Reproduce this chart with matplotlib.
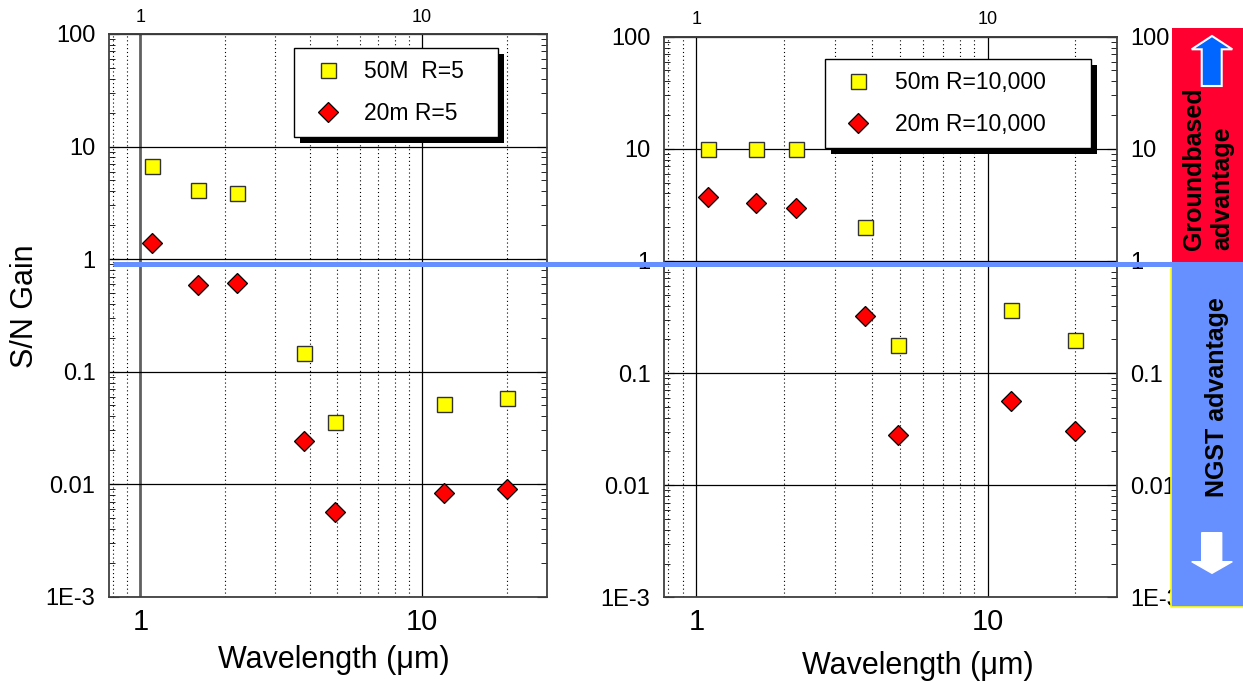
import numpy as np
import matplotlib
matplotlib.use('Agg')
import matplotlib.pyplot as plt
from matplotlib.ticker import FixedLocator, FixedFormatter, NullFormatter, LogLocator, NullLocator
from matplotlib.patches import Rectangle, Polygon
from matplotlib.lines import Line2D
import matplotlib.transforms as mtransforms

plt.rcParams['font.family'] = ['Liberation Sans', 'DejaVu Sans']

W, H = 1243, 681

# ---------------- data ----------------
wavelength = [1.1, 1.6, 2.2, 3.8, 4.9, 12, 20]
left_50m = [6.7, 4.1, 3.9, 0.147, 0.036, 0.052, 0.058]
left_20m = [1.38, 0.59, 0.61, 0.024, 0.0056, 0.0083, 0.0091]
right_50m = [10, 10, 10, 2.0, 0.179, 0.366, 0.198]
right_20m = [3.74, 3.3, 2.98, 0.322, 0.0278, 0.0567, 0.0306]

left_labels = ['50M  R=5', '20m R=5']
right_labels = ['50m R=10,000', '20m R=10,000']

ytick_vals = [1e-3, 1e-2, 1e-1, 1, 10, 100]
ytick_text = ['1E-3', '0.01', '0.1', '1', '10', '100']
xtick_vals = [1, 10]
xtick_text = ['1', '10']
xlim = (0.776, 27.7)
ylim = (1e-3, 100)

fig = plt.figure(figsize=(W / 100, H / 100), dpi=100)
pix = mtransforms.Affine2D().scale(1, -1).translate(0, H)


def fig_rect(x0, y0, x1, y1):
    return [x0 / W, 1 - y1 / H, (x1 - x0) / W, (y1 - y0) / H]


axL = fig.add_axes(fig_rect(109.3, 34.0, 546.7, 596.7))
axR = fig.add_axes(fig_rect(664.3, 36.7, 1116.7, 597.3))


def style(ax, labelright=False):
    ax.set_xscale('log')
    ax.set_yscale('log')
    ax.set_xlim(*xlim)
    ax.set_ylim(*ylim)
    ax.xaxis.set_major_locator(FixedLocator(xtick_vals))
    ax.xaxis.set_major_formatter(FixedFormatter(xtick_text))
    ax.xaxis.set_minor_locator(LogLocator(base=10, subs=np.arange(2, 10), numticks=50))
    ax.xaxis.set_minor_formatter(NullFormatter())
    ax.yaxis.set_major_locator(FixedLocator(ytick_vals))
    ax.yaxis.set_major_formatter(FixedFormatter(ytick_text))
    ax.yaxis.set_minor_locator(LogLocator(base=10, subs=np.arange(2, 10), numticks=50))
    ax.yaxis.set_minor_formatter(NullFormatter())
    ax.grid(True, which='major', axis='both', color='black', lw=0.9, ls='-')
    ax.grid(True, which='minor', axis='x', color='black', lw=0.8, ls=(0, (1, 2.5)))
    ax.tick_params(axis='x', which='both', length=0, labelsize=21, pad=8)
    ax.tick_params(axis='y', which='major', direction='in', length=7, left=True,
                   right=True, labelsize=17, pad=10, labelright=labelright)
    ax.tick_params(axis='y', which='minor', direction='in', length=4, left=True, right=True)
    for s in ax.spines.values():
        s.set_color('#404040')
        s.set_linewidth(1.3)
    sec = ax.secondary_xaxis('top')
    sec.set_xticks(xtick_vals, xtick_text)
    sec.xaxis.set_minor_locator(NullLocator())
    sec.tick_params(which='both', length=0, labelsize=13, pad=6)
    sec.spines['top'].set_color('#404040')
    sec.spines['top'].set_linewidth(1.3)
    return sec


def plot_panel(ax, y50, y20, labels):
    ax.plot(wavelength, y50, ls='none', marker='s', ms=10.8, mfc='#FFFF00',
            mec='#333333', mew=1.0, label=labels[0], zorder=3)
    ax.plot(wavelength, y20, ls='none', marker='D', ms=10, mfc='#FF0000',
            mec='black', mew=0.9, label=labels[1], zorder=3)


def add_legend(ax, x0, y0, x1):
    leg = ax.legend(loc='upper left',
                    bbox_to_anchor=(x0 / W, 1 - y0 / H - 0.1, (x1 - x0) / W, 0.1),
                    bbox_transform=fig.transFigure, mode='expand', borderaxespad=0,
                    fontsize=16.5, frameon=True, fancybox=False, edgecolor='black',
                    framealpha=1, borderpad=0.5, labelspacing=0.85, handlelength=1.9,
                    handletextpad=0.65, numpoints=1)
    leg.get_frame().set_linewidth(1.0)
    return leg


style(axL)
style(axR, labelright=True)
plot_panel(axL, left_50m, left_20m, left_labels)
plot_panel(axR, right_50m, right_20m, right_labels)
legL = add_legend(axL, 294.3, 48.3, 498.3)
legR = add_legend(axR, 825.0, 59.3, 1090.7)

# x = 1 grid line in left panel drawn grey and heavier
axL.xaxis.get_major_ticks()[0].gridline.set(color='#606060', lw=2.0)

# axis titles
fig.text(25, 306.5, 'S/N Gain', transform=pix, rotation=90, ha='center', va='center', fontsize=22)
fig.text(334.2, 668, 'Wavelength (\u03bcm)', transform=pix, ha='center', va='baseline', fontsize=22)
fig.text(917.5, 674, 'Wavelength (\u03bcm)', transform=pix, ha='center', va='baseline', fontsize=22)

# side panel
fig.add_artist(Rectangle((1171.7, 27.7), 72.3, 234.3, transform=pix, fc='#FF0030', ec='none'))
fig.add_artist(Rectangle((1170.7, 262.0), 73.3, 344.7, transform=pix, fc='#6690FF', ec='none'))
fig.add_artist(Line2D([1170.7, 1170.7, 1243], [262.0, 606.7, 606.7], transform=pix,
                      color='#FFFF00', lw=1.2))
up = [(1212, 36), (1232.3, 49.3), (1221.7, 49.3), (1221.7, 86), (1201.7, 86),
      (1201.7, 49.3), (1191.7, 49.3)]
fig.add_artist(Polygon(up, closed=True, transform=pix, fc='#0066FF', ec='white', lw=1.5))
down = [(1201.7, 532.7), (1221.7, 532.7), (1221.7, 561.7), (1232.3, 561.7), (1212, 573.3),
        (1191.7, 561.7), (1201.7, 561.7)]
fig.add_artist(Polygon(down, closed=True, transform=pix, fc='white', ec='white', lw=1))
fig.text(1208, 250, 'Groundbased\nadvantage', transform=pix, rotation=90, ha='center',
         va='bottom', multialignment='left', fontsize=18, fontweight='bold', linespacing=1.2)
fig.text(1216.7, 397, 'NGST advantage', transform=pix, rotation=90, ha='center',
         va='center', fontsize=18, fontweight='bold')

# blue threshold band across the figure
fig.add_artist(Line2D([113, 1172], [264, 264], transform=pix, color='#6690FF', lw=3.6,
                      solid_capstyle='butt', zorder=3))

# legend shadows
fig.canvas.draw()
for ax, leg in ((axL, legL), (axR, legR)):
    bb = leg.get_frame().get_window_extent()
    sh = Rectangle((bb.x0 + 6, bb.y0 - 6), bb.width, bb.height,
                   transform=mtransforms.IdentityTransform(), fc='black', ec='none',
                   zorder=4.5, clip_on=False)
    ax.add_artist(sh)

fig.savefig('out.png', dpi=100)
